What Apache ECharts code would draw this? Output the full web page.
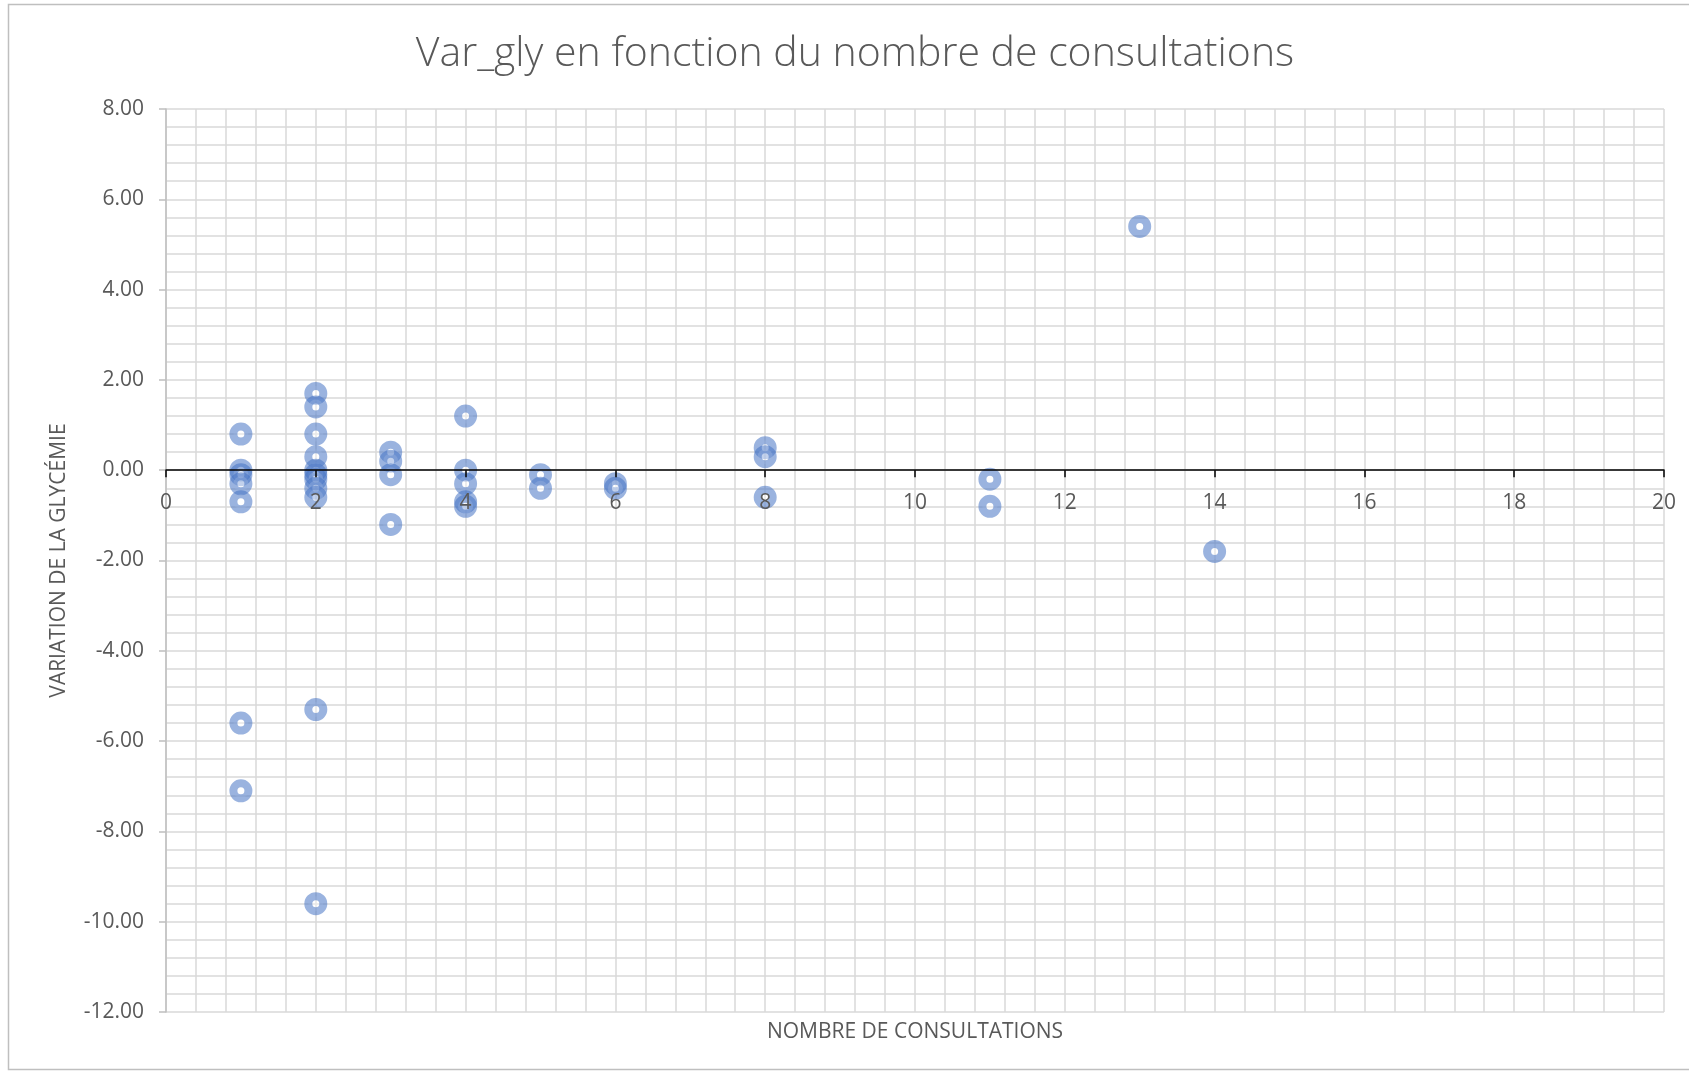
<!DOCTYPE html>
<html>
<head>
<meta charset="utf-8">
<title>Var_gly en fonction du nombre de consultations</title>
<script src="https://cdn.jsdelivr.net/npm/echarts@6/dist/echarts.min.js"></script>
<style>
  html, body { margin: 0; padding: 0; background: #fff; }
  #chart { width: 1689px; height: 1072px; }
</style>
</head>
<body>
<div id="chart"></div>
<script>
// nombre de consultations (x) et variation de la glycémie (y)
const consultations = [
  1, 1, 1, 1, 1, 1, 1,
  2, 2, 2, 2, 2, 2, 2, 2, 2, 2, 2,
  3, 3, 3, 3,
  4, 4, 4, 4, 4,
  5, 5,
  6, 6,
  8, 8, 8,
  11, 11,
  13,
  14
];
const varGly = [
  0.8, 0.0, -0.1, -0.3, -0.7, -5.6, -7.1,
  1.7, 1.4, 0.8, 0.3, 0.0, -0.1, -0.2, -0.4, -0.6, -5.3, -9.6,
  0.4, 0.2, -0.1, -1.2,
  1.2, 0.0, -0.3, -0.7, -0.8,
  -0.1, -0.4,
  -0.3, -0.4,
  0.5, 0.3, -0.6,
  -0.2, -0.8,
  5.4,
  -1.8
];

const points = consultations.map((x, i) => [x, varGly[i]]);

const textColor = '#595959';
const gridColor = '#d9d9d9';
const font = '"Open Sans", "Noto Sans", sans-serif';

const yMin = -12;
const yMax = 8;
const xMin = 0;
const xMax = 20;
const gridLeft = 166;
const gridRight = 25;
const gridTop = 109;
const gridBottom = 60;
const chartW = 1689;
const chartH = 1072;
// l'axe horizontal croise l'axe vertical à 0 (comme dans Excel)
const plotH = chartH - gridTop - gridBottom;
const zeroOffset = -plotH * (0 - yMin) / (yMax - yMin);
const plotCenterX = gridLeft + (chartW - gridLeft - gridRight) / 2;

const chart = echarts.init(document.getElementById('chart'), null, { renderer: 'canvas' });

const option = {
  animation: false,
  backgroundColor: '#fff',
  graphic: [
    {
      type: 'rect',
      silent: true,
      shape: { x: 8.5, y: 4.5, width: 1700, height: 1065 },
      style: { fill: null, stroke: '#bfbfbf', lineWidth: 1.5 }
    },
    {
      // titre
      type: 'text',
      silent: true,
      style: {
        x: 855,
        y: 34,
        text: 'Var_gly en fonction du nombre de consultations',
        align: 'center',
        fill: textColor,
        font: '300 41px ' + font
      }
    },
    {
      type: 'text',
      silent: true,
      style: {
        x: plotCenterX,
        y: 1022,
        text: 'NOMBRE DE CONSULTATIONS',
        align: 'center',
        fill: textColor,
        font: '21px ' + font
      }
    }
  ],
  grid: {
    left: gridLeft,
    top: gridTop,
    right: gridRight,
    bottom: gridBottom
  },
  xAxis: [
    {
      // quadrillage seulement
      type: 'value',
      min: xMin,
      max: xMax,
      interval: 2,
      position: 'bottom',
      axisLine: { show: false },
      axisTick: { show: false },
      axisLabel: { show: false },
      splitLine: { show: true, lineStyle: { color: gridColor, width: 1.5 } },
      minorTick: { show: false, splitNumber: 5 },
      minorSplitLine: { show: true, lineStyle: { color: gridColor, width: 1.5 } }
    },
    {
      // axe noir à y = 0, au-dessus des marqueurs
      type: 'value',
      min: xMin,
      max: xMax,
      interval: 2,
      position: 'bottom',
      offset: zeroOffset,
      z: 5,
      axisLine: {
        onZero: false,
        lineStyle: { color: '#000', width: 1.5 }
      },
      axisTick: {
        show: true,
        length: 7,
        lineStyle: { color: '#000', width: 1.5 }
      },
      axisLabel: {
        margin: 22,
        color: textColor,
        fontFamily: font,
        fontSize: 21
      },
      splitLine: { show: false }
    }
  ],
  yAxis: {
    type: 'value',
    min: yMin,
    max: yMax,
    interval: 2,
    name: 'VARIATION DE LA GLYCÉMIE',
    nameLocation: 'middle',
    nameGap: 96,
    nameRotate: 90,
    nameTextStyle: {
      color: textColor,
      fontFamily: font,
      fontSize: 21
    },
    axisLine: {
      show: true,
      onZero: false,
      lineStyle: { color: '#bfbfbf', width: 1.5 }
    },
    axisTick: {
      show: true,
      length: 7,
      lineStyle: { color: '#bfbfbf', width: 1.5 }
    },
    axisLabel: {
      margin: 22,
      color: textColor,
      fontFamily: font,
      fontSize: 21,
      formatter: v => v.toFixed(2)
    },
    splitLine: { show: true, lineStyle: { color: gridColor, width: 1.5 } },
    minorTick: { show: false, splitNumber: 5 },
    minorSplitLine: { show: true, lineStyle: { color: gridColor, width: 1.5 } }
  },
  series: [
    {
      name: 'Var_gly',
      type: 'scatter',
      xAxisIndex: 0,
      data: points,
      symbol: 'circle',
      symbolSize: 15,
      itemStyle: {
        color: 'rgba(255,255,255,0.5)',
        borderColor: 'rgba(68,114,196,0.68)',
        borderWidth: 8
      }
    }
  ]
};

chart.setOption(option);
</script>
</body>
</html>
